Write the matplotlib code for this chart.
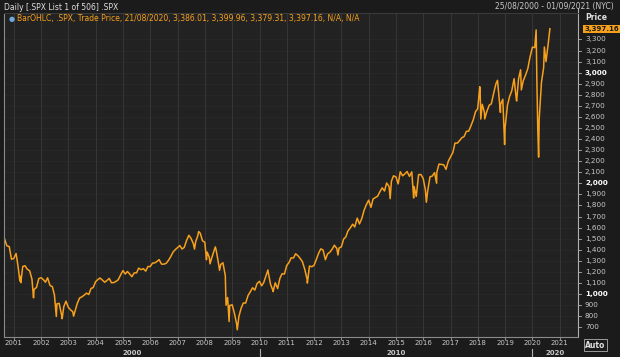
import matplotlib
matplotlib.use('Agg')
import matplotlib.pyplot as plt
import matplotlib.dates as mdates
import matplotlib.transforms as mtransforms
from datetime import datetime

# S&P 500 daily chart (month ends + main extremes)
dates = [
    '2000-08-25', '2000-09-29', '2000-10-31', '2000-11-30', '2000-12-29',
    '2001-01-31', '2001-02-28', '2001-03-22', '2001-03-30', '2001-04-04', '2001-04-30', '2001-05-31',
    '2001-06-29', '2001-07-31', '2001-08-31', '2001-09-21', '2001-09-28', '2001-10-31',
    '2001-11-30', '2001-12-31',
    '2002-01-31', '2002-02-28', '2002-03-28', '2002-04-30', '2002-05-31', '2002-06-28',
    '2002-07-23', '2002-07-31', '2002-08-30', '2002-09-30', '2002-10-09', '2002-10-31',
    '2002-11-29', '2002-12-31',
    '2003-01-31', '2003-02-28', '2003-03-11', '2003-03-31', '2003-04-30', '2003-05-30',
    '2003-06-30', '2003-07-31', '2003-08-29', '2003-09-30', '2003-10-31', '2003-11-28',
    '2003-12-31',
    '2004-01-30', '2004-02-27', '2004-03-31', '2004-04-30', '2004-05-28', '2004-06-30',
    '2004-07-30', '2004-08-31', '2004-09-30', '2004-10-29', '2004-11-30', '2004-12-31',
    '2005-01-31', '2005-02-28', '2005-03-31', '2005-04-29', '2005-05-31', '2005-06-30',
    '2005-07-29', '2005-08-31', '2005-09-30', '2005-10-31', '2005-11-30', '2005-12-30',
    '2006-01-31', '2006-02-28', '2006-03-31', '2006-04-28', '2006-05-31', '2006-06-30',
    '2006-07-31', '2006-08-31', '2006-09-29', '2006-10-31', '2006-11-30', '2006-12-29',
    '2007-01-31', '2007-02-28', '2007-03-30', '2007-04-30', '2007-05-31', '2007-06-29',
    '2007-07-31', '2007-08-15', '2007-08-31', '2007-09-28', '2007-10-09', '2007-10-31', '2007-11-30',
    '2007-12-31',
    '2008-01-22', '2008-01-31', '2008-02-29', '2008-03-10', '2008-03-31', '2008-04-30', '2008-05-19',
    '2008-05-30', '2008-06-30', '2008-07-15', '2008-07-31', '2008-08-29', '2008-09-30',
    '2008-10-10', '2008-10-31', '2008-11-20', '2008-11-28', '2008-12-31',
    '2009-01-30', '2009-02-27', '2009-03-09', '2009-03-31', '2009-04-30', '2009-05-29',
    '2009-06-30', '2009-07-31', '2009-08-31', '2009-09-30', '2009-10-30', '2009-11-30',
    '2009-12-31',
    '2010-01-29', '2010-02-26', '2010-03-31', '2010-04-23', '2010-04-30', '2010-05-28',
    '2010-06-30', '2010-07-02', '2010-07-30', '2010-08-31', '2010-09-30', '2010-10-29',
    '2010-11-30', '2010-12-31',
    '2011-01-31', '2011-02-28', '2011-03-31', '2011-04-29', '2011-05-31', '2011-06-30',
    '2011-07-29', '2011-08-31', '2011-09-30', '2011-10-03', '2011-10-31', '2011-11-30',
    '2011-12-30',
    '2012-01-31', '2012-02-29', '2012-03-30', '2012-04-30', '2012-05-31', '2012-06-29',
    '2012-07-31', '2012-08-31', '2012-09-28', '2012-10-31', '2012-11-15', '2012-11-30',
    '2012-12-31',
    '2013-01-31', '2013-02-28', '2013-03-28', '2013-04-30', '2013-05-31', '2013-06-28',
    '2013-07-31', '2013-08-30', '2013-09-30', '2013-10-31', '2013-11-29', '2013-12-31',
    '2014-01-31', '2014-02-28', '2014-03-31', '2014-04-30', '2014-05-30', '2014-06-30',
    '2014-07-31', '2014-08-29', '2014-09-30', '2014-10-15', '2014-10-31', '2014-11-28',
    '2014-12-31',
    '2015-01-30', '2015-02-27', '2015-03-31', '2015-04-30', '2015-05-29', '2015-06-30',
    '2015-07-31', '2015-08-25', '2015-08-31', '2015-09-29', '2015-10-30', '2015-11-30',
    '2015-12-31',
    '2016-01-29', '2016-02-11', '2016-02-29', '2016-03-31', '2016-04-29', '2016-05-31',
    '2016-06-27', '2016-06-30', '2016-07-29', '2016-08-31', '2016-09-30', '2016-10-31',
    '2016-11-30', '2016-12-30',
    '2017-01-31', '2017-02-28', '2017-03-31', '2017-04-28', '2017-05-31', '2017-06-30',
    '2017-07-31', '2017-08-31', '2017-09-29', '2017-10-31', '2017-11-30', '2017-12-29',
    '2018-01-26', '2018-01-31', '2018-02-08', '2018-02-28', '2018-03-29', '2018-04-02',
    '2018-04-30', '2018-05-31', '2018-06-29', '2018-07-31', '2018-08-31', '2018-09-20',
    '2018-10-29', '2018-10-31', '2018-11-30', '2018-12-24', '2018-12-31',
    '2019-01-31', '2019-02-28', '2019-03-29', '2019-04-30', '2019-05-31', '2019-06-03',
    '2019-06-28', '2019-07-26', '2019-08-05', '2019-08-30', '2019-09-30', '2019-10-31',
    '2019-11-29', '2019-12-31',
    '2020-01-31', '2020-02-19', '2020-02-28', '2020-03-12', '2020-03-23', '2020-03-31',
    '2020-04-30', '2020-05-29', '2020-06-08', '2020-06-30', '2020-07-31', '2020-08-21',
]
closes = [
    1507, 1436, 1429, 1315, 1320,
    1366, 1240, 1118, 1160, 1103, 1249, 1256,
    1224, 1211, 1134, 966, 1041, 1060,
    1139, 1148,
    1130, 1107, 1147, 1077, 1067, 990,
    797, 912, 916, 815, 777, 886,
    936, 880,
    856, 841, 800, 848, 917, 964,
    975, 990, 1008, 996, 1051, 1058,
    1112,
    1131, 1145, 1126, 1107, 1121, 1141,
    1102, 1104, 1115, 1130, 1174, 1212,
    1181, 1204, 1181, 1157, 1192, 1191,
    1234, 1220, 1229, 1207, 1249, 1248,
    1280, 1281, 1295, 1311, 1270, 1270,
    1277, 1304, 1336, 1378, 1401, 1418,
    1438, 1407, 1421, 1482, 1531, 1503,
    1455, 1406, 1474, 1527, 1565, 1549, 1481,
    1468,
    1310, 1379, 1331, 1273, 1323, 1386, 1426,
    1400, 1280, 1214, 1267, 1283, 1166,
    899, 969, 752, 896, 903,
    826, 735, 677, 798, 873, 919,
    919, 987, 1021, 1057, 1036, 1096,
    1115,
    1074, 1104, 1169, 1217, 1187, 1089,
    1031, 1022, 1102, 1049, 1141, 1183,
    1181, 1258,
    1286, 1327, 1326, 1364, 1345, 1321,
    1292, 1219, 1131, 1099, 1253, 1247,
    1258,
    1312, 1366, 1408, 1398, 1310, 1362,
    1379, 1407, 1441, 1412, 1353, 1416,
    1426,
    1498, 1515, 1569, 1598, 1631, 1606,
    1686, 1633, 1682, 1757, 1806, 1848,
    1783, 1859, 1872, 1884, 1924, 1960,
    1931, 2003, 1972, 1862, 2018, 2068,
    2059,
    1995, 2105, 2068, 2086, 2107, 2063,
    2104, 1868, 1972, 1882, 2079, 2080,
    2044,
    1940, 1829, 1932, 2060, 2065, 2097,
    2001, 2099, 2174, 2171, 2168, 2126,
    2199, 2239,
    2279, 2364, 2363, 2384, 2412, 2423,
    2470, 2472, 2519, 2575, 2648, 2674,
    2873, 2824, 2581, 2714, 2641, 2582,
    2648, 2705, 2718, 2816, 2902, 2931,
    2641, 2712, 2760, 2351, 2507,
    2704, 2784, 2834, 2946, 2752, 2744,
    2942, 3026, 2844, 2926, 2977, 3038,
    3141, 3231,
    3226, 3386, 2954, 2481, 2237, 2585,
    2912, 3044, 3232, 3100, 3271, 3397.16,
]

year_ticks = list(range(2001, 2022))
price_ticks = list(range(700, 3301, 100))
decade_labels = ['2000', '2010', '2020']
decade_centres = ['2005-05-01', '2015-01-01', '2020-11-01']

x = [datetime.strptime(d, '%Y-%m-%d') for d in dates]

bg = '#1b1b1b'
plot_bg = '#222222'
txt = '#c8c8c8'
orange = '#f7a01c'

fig = plt.figure(figsize=(6.2, 3.57), dpi=100, facecolor=bg)
ax = fig.add_axes([4 / 620, 20 / 357, 574 / 620, 323 / 357])
ax.set_facecolor(plot_bg)

ax.plot(x, closes, color=orange, lw=1.1)

ax.set_xlim(datetime(2000, 8, 22), datetime(2021, 9, 1))
ax.set_ylim(612, 3530)

# grid
for p in price_ticks:
    ax.axhline(p, color='#292929', lw=0.6, zorder=0)
for yr in year_ticks:
    ax.axvline(datetime(yr, 1, 1), color='#363636', lw=0.7, zorder=0)

for s in ['top', 'right']:
    ax.spines[s].set_visible(False)
for s in ['left', 'bottom']:
    ax.spines[s].set_color('#8a8a8a')
    ax.spines[s].set_linewidth(0.8)

# right price axis line
ax.plot([1, 1], [0, 1.02], transform=ax.transAxes, color='#b0b0b0', lw=0.8, clip_on=False)

ax.set_xticks([datetime(yr, 1, 1) for yr in year_ticks])
ax.set_xticklabels([str(yr) for yr in year_ticks])
ax.tick_params(axis='x', colors='#8a8a8a', labelcolor=txt, labelsize=5, length=2, pad=0.5)
ax.set_yticks([])

ytr = mtransforms.blended_transform_factory(ax.transAxes, ax.transData)
for p in price_ticks:
    bold = p % 1000 == 0
    ax.annotate('{:,}'.format(p), xy=(1, p), xycoords=('axes fraction', 'data'),
                xytext=(5, 0), textcoords='offset points', va='center', ha='left',
                fontsize=5.2, color='white' if bold else txt,
                fontweight='bold' if bold else 'normal')
    ax.plot([1, 1.006], [p, p], transform=ytr, color='#b0b0b0', lw=0.6, clip_on=False)

# last price box
ax.annotate('{:,.2f}'.format(closes[-1]), xy=(1, closes[-1]), xycoords=('axes fraction', 'data'),
            xytext=(4.5, 0), textcoords='offset points', va='center', ha='left',
            fontsize=5, color='#1b1b1b', fontweight='bold',
            bbox=dict(boxstyle='square,pad=0.12', fc=orange, ec='none'))

# decade labels under year labels
tr = mtransforms.blended_transform_factory(ax.transData, fig.transFigure)
for lab, c in zip(decade_labels, decade_centres):
    ax.text(datetime.strptime(c, '%Y-%m-%d'), 4 / 357, lab, transform=tr, ha='center',
            va='center', fontsize=5, color=txt, fontweight='bold')
for yr in [2010, 2020]:
    ax.plot([mdates.date2num(datetime(yr, 1, 1))] * 2, [0, 8 / 357], transform=tr,
            color='#b0b0b0', lw=0.8, clip_on=False)

# header texts
fig.text(4 / 620, 1 - 7 / 357, 'Daily [.SPX List 1 of 506] .SPX', fontsize=5.5,
         color='#e0e0e0', va='center', ha='left')
fig.text(614 / 620, 1 - 7 / 357, '25/08/2000 - 01/09/2021 (NYC)', fontsize=5.5,
         color=txt, va='center', ha='right')
fig.text(17 / 620, 1 - 19 / 357,
         'BarOHLC, .SPX, Trade Price, 21/08/2020, 3,386.01, 3,399.96, 3,379.31, 3,397.16, N/A, N/A',
         fontsize=5.5, color=orange, va='center', ha='left')
fig.text(12 / 620, 1 - 19 / 357, '\u25cf', fontsize=5, color='#6fa8dc', va='center', ha='center')
fig.text(585 / 620, 1 - 17 / 357, 'Price', fontsize=5.5, color='#e0e0e0', va='center',
         ha='left', fontweight='bold')
fig.text(585 / 620, 1 - 345 / 357, 'Auto', fontsize=5.5, color='#e0e0e0', va='center',
         ha='left', fontweight='bold',
         bbox=dict(boxstyle='square,pad=0.15', fc='none', ec='#b0b0b0', lw=0.6))

fig.add_artist(plt.Line2D([4 / 620, 578 / 620], [1 - 13 / 357, 1 - 13 / 357],
                          color='#3a3a3a', lw=0.8))

fig.savefig('out.png', dpi=100, facecolor=bg)
